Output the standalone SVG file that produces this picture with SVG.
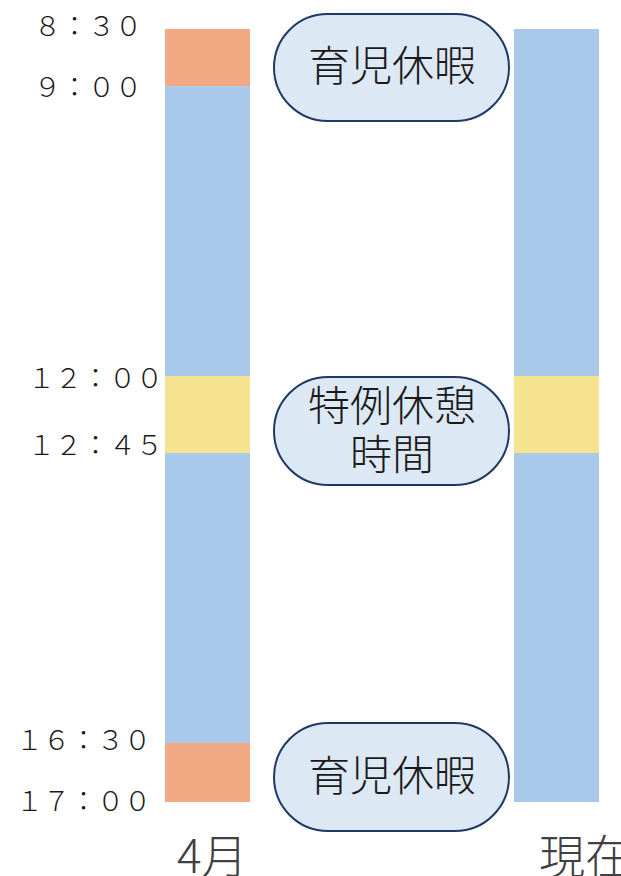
<svg xmlns="http://www.w3.org/2000/svg" width="621" height="876" viewBox="0 0 621 876">
<style>
.t{font-family:"Noto Sans CJK JP","Noto Sans CJK SC",sans-serif;font-size:27px;fill:#1a1a1a;font-weight:300}
.cap{fill:#dde8f5;stroke:#1f3864;stroke-width:2}
.ct{font-family:"Noto Sans CJK JP","Noto Sans CJK SC",sans-serif;font-size:42px;fill:#1a1a1a;text-anchor:middle;font-weight:300}
.ax{font-family:"Noto Sans CJK JP","Noto Sans CJK SC",sans-serif;font-size:46px;fill:#404040;font-weight:300}
.b{fill:#a8c9ea}.o{fill:#f0a982}.y{fill:#f5e38f}
</style>
<rect width="621" height="876" fill="#fff"/>
<g id="bar-april">
<rect class="o" x="165" y="29" width="85" height="57"/>
<rect class="b" x="165" y="86" width="85" height="290"/>
<rect class="y" x="165" y="376" width="85" height="77"/>
<rect class="b" x="165" y="453" width="85" height="290"/>
<rect class="o" x="165" y="743" width="85" height="59"/>
</g>
<g id="bar-now">
<rect class="b" x="514" y="29" width="85" height="347"/>
<rect class="y" x="514" y="376" width="85" height="77"/>
<rect class="b" x="514" y="453" width="85" height="349"/>
</g>
<g id="times">
<text class="t" x="34" y="36">８：３０</text>
<text class="t" x="34" y="97">９：００</text>
<text class="t" x="28" y="388">１２：００</text>
<text class="t" x="28" y="455">１２：４５</text>
<text class="t" x="16" y="750">１６：３０</text>
<text class="t" x="16" y="811">１７：００</text>
</g>
<g id="node-top">
<rect class="cap" x="274" y="14" width="235" height="107" rx="53.5"/>
<text class="ct" x="392" y="81">育児休暇</text>
</g>
<g id="node-mid">
<rect class="cap" x="274" y="377" width="235" height="108" rx="54"/>
<text class="ct" x="392" y="421">特例休憩</text>
<text class="ct" x="392" y="470">時間</text>
</g>
<g id="node-bottom">
<rect class="cap" x="274" y="723" width="235" height="108" rx="54"/>
<text class="ct" x="392" y="791">育児休暇</text>
</g>
<g id="labels">
<text class="ax" x="177" y="873">4月</text>
<text class="ax" x="539" y="873">現在</text>
</g>
</svg>
